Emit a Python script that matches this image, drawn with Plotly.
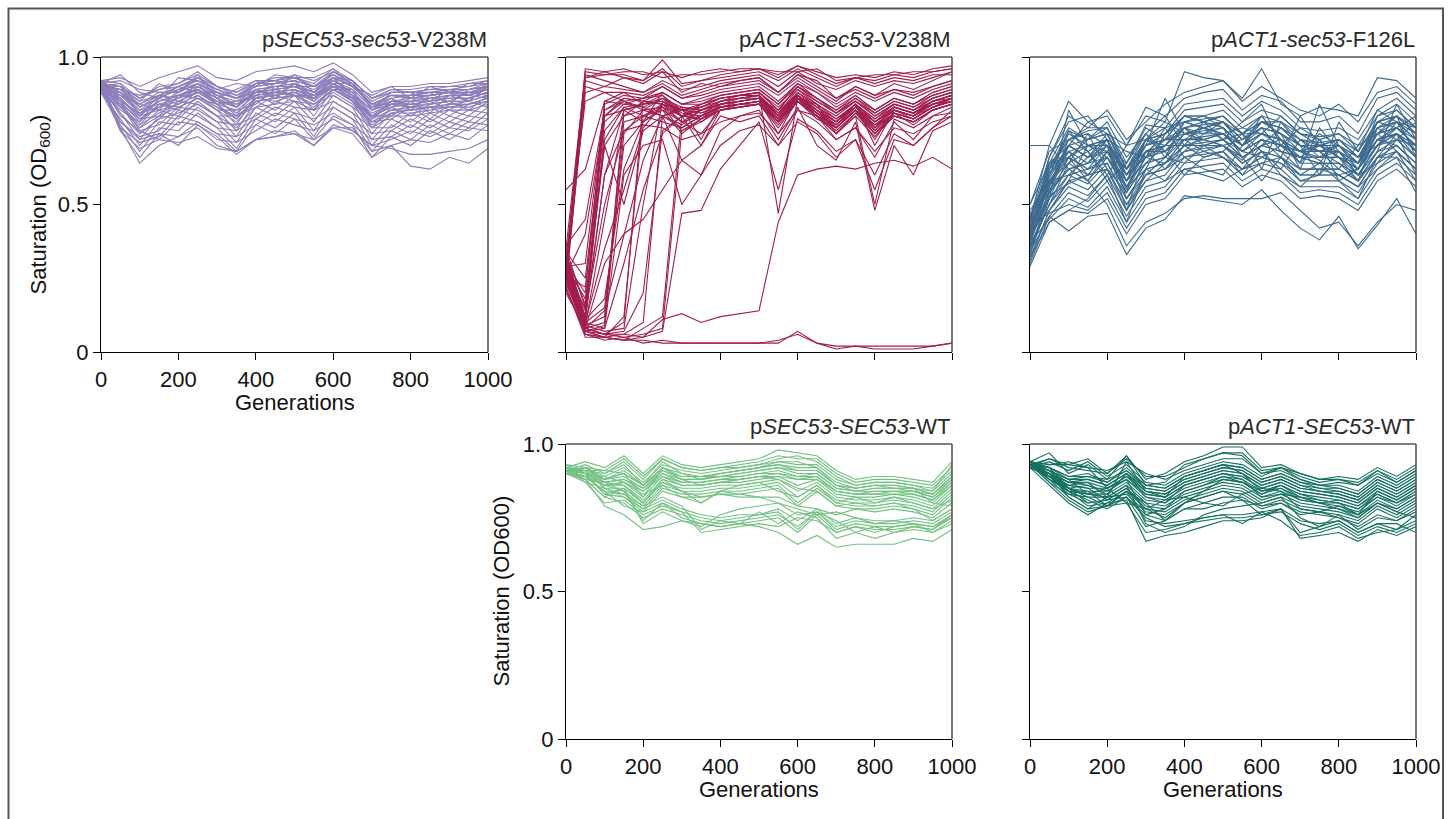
import plotly.graph_objects as go

# Generations at which saturation was measured
GENERATIONS = [0, 50, 100, 150, 200, 250, 300, 350, 400, 450, 500,
               550, 600, 650, 700, 750, 800, 850, 900, 950, 1000]

# Saturation values are stored as OD600 x 100, one row per replicate population.

# pSEC53-sec53-V238M
SEC53_V238M = [
    [92, 93, 90, 93, 95, 97, 93, 92, 95, 96, 97, 95, 98, 94, 88, 90, 90, 91, 91, 92, 93],
    [91, 94, 88, 86, 93, 92, 89, 91, 90, 94, 93, 93, 96, 90, 87, 90, 86, 90, 88, 91, 92],
    [90, 89, 85, 91, 88, 94, 86, 89, 92, 89, 94, 88, 95, 92, 82, 88, 88, 85, 89, 87, 91],
    [91, 90, 80, 87, 90, 88, 88, 83, 91, 92, 90, 90, 91, 91, 84, 84, 87, 88, 84, 89, 90],
    [89, 88, 84, 82, 89, 91, 84, 85, 87, 91, 92, 86, 93, 87, 82, 86, 82, 87, 88, 85, 90],
    [90, 85, 78, 86, 84, 90, 86, 80, 89, 86, 91, 88, 89, 89, 79, 85, 85, 81, 87, 87, 86],
    [92, 86, 79, 80, 87, 86, 82, 82, 84, 89, 87, 86, 91, 85, 80, 80, 85, 85, 82, 86, 88],
    [89, 82, 78, 84, 82, 89, 84, 77, 87, 84, 89, 82, 91, 87, 76, 83, 80, 84, 85, 82, 87],
    [88, 84, 74, 79, 85, 84, 80, 80, 83, 87, 85, 84, 87, 83, 78, 79, 83, 79, 84, 85, 83],
    [90, 83, 76, 82, 80, 87, 82, 75, 85, 82, 87, 80, 89, 85, 74, 81, 78, 83, 80, 84, 86],
    [91, 80, 75, 77, 83, 82, 78, 77, 80, 85, 83, 82, 85, 81, 76, 76, 81, 78, 82, 80, 85],
    [89, 81, 72, 80, 79, 85, 80, 73, 83, 80, 85, 78, 87, 83, 72, 79, 76, 81, 78, 82, 81],
    [90, 78, 73, 75, 82, 80, 76, 75, 79, 83, 81, 79, 83, 79, 74, 75, 79, 76, 80, 78, 83],
    [88, 79, 70, 78, 77, 83, 78, 71, 81, 78, 83, 75, 85, 81, 70, 77, 74, 79, 76, 80, 79],
    [92, 76, 71, 73, 80, 78, 74, 73, 77, 81, 79, 77, 81, 77, 72, 73, 77, 74, 78, 76, 81],
    [89, 77, 68, 76, 75, 81, 76, 69, 79, 76, 81, 73, 83, 79, 68, 75, 72, 77, 74, 78, 77],
    [90, 75, 69, 72, 78, 77, 72, 71, 75, 79, 77, 75, 79, 75, 70, 72, 75, 73, 76, 75, 79],
    [91, 75, 66, 74, 73, 78, 74, 68, 77, 74, 79, 72, 80, 77, 66, 73, 70, 75, 72, 76, 75],
    [88, 76, 64, 70, 73, 76, 70, 68, 72, 75, 74, 72, 76, 76, 68, 70, 72, 71, 74, 72, 77],
    [90, 78, 72, 74, 70, 77, 73, 67, 72, 73, 74, 70, 76, 74, 66, 70, 63, 62, 66, 64, 69],
    [89, 85, 75, 72, 71, 73, 69, 68, 72, 73, 75, 70, 77, 75, 70, 69, 67, 67, 68, 69, 72],
    [91, 92, 89, 88, 88, 93, 90, 87, 91, 91, 93, 90, 93, 92, 86, 89, 88, 89, 90, 90, 92],
    [90, 90, 86, 90, 91, 95, 90, 88, 91, 93, 93, 91, 96, 92, 86, 89, 89, 90, 90, 91, 91],
    [92, 87, 84, 87, 90, 93, 88, 86, 90, 91, 92, 90, 95, 91, 83, 87, 87, 88, 89, 89, 90],
    [89, 88, 81, 85, 87, 89, 85, 83, 88, 89, 90, 87, 92, 88, 80, 85, 84, 85, 86, 86, 88],
    [90, 86, 79, 83, 86, 88, 84, 82, 87, 88, 89, 86, 91, 87, 79, 84, 83, 84, 85, 85, 87],
    [91, 84, 77, 81, 84, 87, 83, 79, 86, 87, 88, 85, 90, 86, 78, 82, 82, 83, 84, 84, 86],
    [88, 83, 76, 80, 83, 86, 82, 78, 85, 86, 87, 84, 89, 85, 77, 81, 81, 82, 83, 83, 85],
    [90, 81, 74, 79, 81, 84, 80, 76, 83, 84, 85, 82, 88, 84, 76, 80, 80, 81, 82, 82, 84],
    [91, 88, 83, 86, 89, 92, 87, 85, 89, 90, 91, 88, 93, 90, 84, 87, 86, 87, 88, 88, 89],
    [90, 87, 82, 84, 86, 89, 85, 84, 87, 88, 89, 86, 90, 87, 81, 84, 84, 85, 86, 86, 88],
    [91, 86, 80, 85, 87, 90, 86, 83, 88, 89, 90, 87, 92, 88, 82, 85, 85, 86, 87, 87, 89],
    [89, 89, 83, 87, 85, 88, 84, 85, 86, 88, 87, 87, 90, 89, 83, 86, 83, 86, 85, 88, 87],
    [92, 85, 81, 83, 88, 91, 87, 83, 89, 87, 91, 85, 93, 86, 80, 83, 86, 84, 87, 85, 90],
    [91, 89, 84, 88, 88, 91, 88, 86, 89, 90, 91, 89, 93, 90, 84, 86, 87, 87, 88, 88, 90],
    [90, 91, 86, 89, 90, 92, 89, 87, 90, 91, 92, 90, 94, 91, 85, 88, 88, 88, 89, 89, 91],
    [92, 88, 82, 86, 89, 90, 87, 84, 88, 89, 90, 88, 92, 89, 83, 85, 86, 86, 87, 87, 89],
    [89, 87, 81, 85, 87, 89, 86, 83, 88, 88, 89, 87, 91, 88, 82, 84, 85, 86, 86, 86, 88],
    [91, 90, 85, 87, 86, 91, 88, 86, 88, 90, 90, 88, 93, 90, 84, 87, 86, 87, 88, 87, 90],
    [90, 84, 79, 83, 85, 88, 85, 81, 86, 87, 88, 86, 90, 86, 80, 83, 84, 84, 85, 85, 87],
    [88, 86, 80, 82, 84, 87, 83, 80, 85, 86, 87, 84, 89, 86, 79, 82, 83, 83, 84, 84, 86],
    [91, 83, 77, 84, 83, 86, 84, 79, 86, 85, 87, 83, 89, 85, 78, 81, 82, 83, 83, 84, 85],
    [90, 89, 87, 89, 91, 94, 90, 88, 92, 92, 94, 92, 95, 92, 86, 88, 88, 89, 89, 90, 91],
    [92, 91, 83, 86, 90, 93, 89, 86, 91, 92, 93, 90, 94, 90, 84, 87, 87, 88, 88, 89, 90],
]

# pACT1-sec53-V238M
ACT1_V238M = [
    [30, 96, 95, 96, 94, 95, 93, 95, 96, 95, 96, 94, 97, 95, 93, 94, 93, 95, 94, 96, 97],
    [25, 95, 94, 95, 95, 93, 94, 94, 95, 96, 96, 95, 95, 96, 92, 93, 94, 94, 95, 95, 96],
    [35, 94, 92, 90, 88, 92, 89, 90, 92, 93, 94, 90, 95, 91, 89, 92, 90, 92, 91, 93, 95],
    [28, 93, 95, 93, 92, 99, 91, 92, 93, 94, 95, 92, 96, 93, 90, 93, 91, 93, 92, 94, 94],
    [22, 90, 88, 85, 86, 90, 86, 88, 90, 91, 92, 88, 93, 89, 85, 90, 87, 89, 88, 90, 92],
    [30, 20, 85, 84, 86, 87, 80, 84, 86, 87, 88, 82, 90, 86, 81, 85, 80, 84, 82, 86, 88],
    [26, 15, 82, 85, 83, 80, 77, 82, 85, 86, 87, 80, 88, 84, 79, 83, 78, 82, 80, 85, 87],
    [33, 12, 80, 86, 85, 84, 82, 81, 84, 85, 86, 82, 87, 82, 78, 84, 76, 83, 81, 84, 86],
    [24, 10, 75, 83, 80, 78, 76, 80, 83, 84, 85, 79, 86, 81, 76, 82, 75, 81, 79, 83, 85],
    [29, 18, 70, 80, 82, 83, 75, 79, 82, 83, 84, 78, 85, 80, 74, 81, 74, 80, 78, 82, 84],
    [27, 8, 10, 82, 84, 86, 80, 83, 85, 86, 87, 81, 88, 83, 78, 84, 79, 83, 81, 85, 87],
    [31, 9, 12, 78, 80, 84, 78, 82, 84, 85, 86, 80, 87, 82, 77, 83, 77, 82, 80, 84, 86],
    [25, 7, 9, 74, 82, 80, 76, 80, 83, 84, 85, 79, 86, 81, 76, 82, 76, 81, 79, 83, 85],
    [34, 10, 15, 70, 78, 82, 74, 79, 82, 83, 84, 78, 85, 80, 75, 81, 74, 80, 78, 82, 84],
    [28, 8, 6, 10, 85, 84, 80, 82, 84, 85, 86, 80, 87, 81, 77, 83, 78, 82, 80, 84, 86],
    [22, 6, 5, 12, 80, 83, 78, 80, 83, 84, 85, 78, 86, 80, 76, 82, 76, 81, 79, 83, 85],
    [30, 9, 7, 8, 50, 85, 82, 81, 83, 84, 85, 79, 86, 82, 76, 82, 77, 80, 78, 82, 84],
    [26, 7, 5, 6, 10, 80, 83, 82, 84, 85, 86, 81, 87, 83, 79, 84, 78, 83, 81, 85, 87],
    [32, 8, 6, 7, 20, 75, 80, 80, 83, 84, 84, 78, 85, 81, 76, 82, 75, 81, 79, 83, 85],
    [24, 6, 5, 4, 8, 12, 80, 82, 84, 85, 86, 80, 87, 82, 78, 83, 77, 82, 80, 84, 86],
    [29, 7, 6, 5, 6, 8, 75, 78, 82, 83, 84, 77, 85, 80, 74, 80, 73, 80, 78, 82, 84],
    [27, 8, 6, 6, 5, 7, 47, 48, 62, 70, 78, 55, 79, 75, 68, 72, 55, 72, 70, 76, 82],
    [25, 7, 5, 4, 5, 11, 13, 10, 12, 13, 14, 44, 60, 62, 63, 62, 64, 65, 63, 66, 62],
    [30, 6, 4, 5, 3, 4, 3, 3, 3, 3, 3, 4, 6, 3, 2, 2, 2, 2, 2, 2, 3],
    [22, 5, 5, 4, 4, 3, 3, 3, 3, 3, 3, 3, 7, 3, 1, 2, 1, 1, 1, 2, 3],
    [55, 62, 85, 88, 84, 87, 82, 84, 86, 87, 88, 47, 86, 84, 74, 80, 50, 79, 76, 80, 83],
    [31, 10, 8, 60, 70, 72, 50, 60, 75, 80, 82, 72, 83, 70, 65, 78, 48, 70, 60, 75, 78],
    [35, 15, 70, 50, 75, 80, 65, 70, 80, 78, 80, 70, 82, 80, 72, 76, 66, 78, 72, 80, 81],
    [28, 92, 90, 93, 91, 95, 88, 91, 90, 92, 93, 88, 94, 92, 86, 90, 87, 91, 89, 92, 95],
    [26, 40, 80, 82, 78, 88, 84, 86, 88, 89, 90, 85, 91, 88, 83, 87, 82, 86, 84, 88, 90],
    [33, 11, 60, 75, 77, 76, 72, 74, 78, 80, 81, 74, 82, 78, 72, 76, 68, 76, 74, 78, 80],
    [20, 8, 30, 40, 45, 55, 65, 60, 70, 75, 77, 70, 78, 74, 66, 72, 60, 74, 70, 76, 80],
    [27, 93, 94, 94, 92, 96, 90, 92, 94, 95, 96, 93, 97, 94, 91, 93, 92, 94, 93, 95, 96],
    [32, 85, 88, 88, 87, 90, 86, 87, 89, 90, 91, 87, 92, 88, 84, 88, 85, 88, 86, 89, 91],
    [24, 88, 90, 89, 88, 91, 87, 89, 91, 92, 93, 88, 94, 90, 86, 89, 86, 89, 87, 90, 92],
    [29, 30, 84, 87, 86, 88, 84, 85, 87, 88, 89, 84, 90, 86, 82, 86, 82, 86, 84, 87, 89],
    [26, 22, 78, 84, 83, 86, 82, 83, 86, 87, 88, 83, 89, 85, 81, 85, 81, 85, 83, 86, 88],
    [31, 12, 60, 82, 84, 85, 81, 80, 85, 86, 87, 80, 88, 83, 79, 84, 79, 84, 82, 85, 87],
    [23, 9, 45, 80, 85, 84, 80, 79, 84, 85, 86, 79, 87, 82, 78, 83, 78, 83, 81, 84, 86],
    [34, 25, 80, 85, 82, 86, 83, 72, 84, 86, 86, 78, 87, 83, 78, 84, 70, 82, 79, 83, 86],
    [28, 11, 18, 62, 78, 83, 80, 70, 82, 84, 85, 74, 86, 80, 77, 82, 72, 82, 80, 84, 85],
    [30, 14, 50, 75, 80, 82, 78, 74, 82, 83, 84, 76, 85, 79, 76, 82, 74, 81, 77, 82, 84],
    [25, 8, 14, 40, 65, 80, 82, 78, 83, 84, 85, 78, 86, 82, 77, 83, 76, 82, 80, 83, 85],
    [33, 16, 72, 83, 84, 85, 80, 82, 85, 87, 87, 81, 89, 84, 80, 85, 80, 84, 82, 86, 88],
    [27, 10, 35, 55, 76, 84, 82, 83, 86, 87, 88, 82, 90, 85, 81, 86, 81, 85, 83, 87, 89],
    [36, 45, 82, 86, 85, 88, 84, 84, 87, 88, 89, 84, 91, 86, 82, 87, 82, 86, 84, 88, 90],
    [21, 7, 8, 30, 55, 74, 80, 79, 83, 85, 86, 80, 87, 82, 78, 84, 78, 83, 81, 85, 86],
]

# pACT1-sec53-F126L
ACT1_F126L = [
    [45, 70, 85, 78, 80, 70, 80, 78, 95, 93, 92, 86, 96, 84, 80, 83, 82, 80, 93, 92, 86],
    [40, 66, 80, 76, 82, 72, 78, 84, 88, 90, 92, 85, 90, 86, 82, 80, 84, 78, 88, 90, 84],
    [38, 62, 75, 72, 78, 66, 74, 80, 86, 88, 89, 82, 87, 85, 78, 78, 80, 74, 86, 88, 82],
    [50, 68, 72, 75, 76, 64, 77, 76, 84, 85, 86, 80, 85, 82, 76, 75, 76, 72, 82, 86, 80],
    [42, 60, 70, 66, 74, 60, 72, 74, 82, 83, 84, 78, 82, 80, 74, 73, 74, 70, 80, 84, 78],
    [36, 58, 68, 64, 72, 58, 70, 72, 80, 80, 82, 76, 80, 78, 72, 71, 72, 68, 78, 82, 76],
    [44, 56, 66, 62, 70, 56, 68, 70, 78, 79, 80, 74, 78, 76, 70, 70, 70, 66, 76, 80, 74],
    [33, 55, 64, 60, 68, 55, 66, 68, 76, 77, 78, 72, 76, 74, 68, 68, 68, 64, 74, 78, 72],
    [47, 54, 62, 58, 66, 54, 64, 66, 74, 75, 76, 70, 74, 72, 66, 66, 66, 62, 72, 76, 70],
    [39, 52, 60, 57, 64, 52, 62, 64, 72, 73, 74, 68, 72, 70, 64, 64, 64, 60, 70, 74, 68],
    [35, 50, 58, 55, 62, 50, 60, 62, 70, 71, 72, 66, 70, 68, 62, 62, 62, 58, 68, 72, 66],
    [41, 48, 56, 53, 60, 48, 58, 60, 68, 69, 70, 64, 68, 66, 60, 60, 60, 56, 66, 70, 64],
    [30, 46, 54, 51, 58, 46, 56, 58, 66, 67, 68, 62, 66, 64, 58, 58, 58, 54, 64, 68, 62],
    [37, 45, 52, 49, 56, 44, 54, 56, 64, 65, 66, 60, 64, 62, 56, 56, 56, 52, 62, 66, 60],
    [43, 47, 50, 48, 54, 42, 52, 54, 62, 63, 64, 58, 62, 60, 54, 55, 54, 50, 60, 64, 58],
    [32, 44, 48, 47, 52, 40, 50, 52, 60, 61, 62, 56, 60, 58, 52, 53, 52, 48, 58, 62, 56],
    [70, 70, 62, 58, 50, 36, 44, 47, 52, 53, 52, 52, 52, 54, 48, 42, 44, 36, 44, 50, 48],
    [34, 46, 41, 46, 47, 33, 42, 45, 53, 52, 51, 50, 55, 48, 42, 38, 46, 35, 43, 52, 40],
    [46, 60, 75, 68, 60, 70, 83, 80, 70, 78, 72, 78, 84, 70, 68, 65, 60, 62, 70, 74, 70],
    [40, 64, 66, 72, 76, 62, 70, 86, 74, 72, 70, 65, 72, 66, 80, 70, 66, 58, 76, 72, 78],
    [38, 52, 82, 70, 66, 58, 64, 70, 76, 70, 66, 62, 70, 72, 64, 84, 70, 64, 78, 80, 66],
    [48, 58, 60, 66, 70, 48, 68, 62, 68, 74, 78, 74, 62, 78, 70, 60, 78, 68, 82, 78, 74],
    [36, 50, 64, 74, 62, 54, 72, 68, 60, 66, 68, 60, 68, 62, 72, 68, 62, 70, 74, 68, 62],
    [44, 62, 68, 60, 68, 60, 66, 76, 66, 62, 60, 70, 78, 74, 62, 76, 68, 60, 68, 84, 72],
    [31, 48, 58, 70, 72, 52, 60, 66, 78, 76, 74, 68, 66, 70, 76, 72, 58, 62, 72, 70, 64],
    [42, 56, 72, 68, 58, 64, 76, 72, 72, 68, 70, 72, 76, 68, 66, 64, 72, 66, 76, 78, 68],
    [39, 54, 62, 64, 66, 56, 62, 74, 80, 80, 76, 66, 70, 76, 70, 68, 64, 58, 66, 74, 60],
    [45, 66, 78, 80, 72, 68, 66, 70, 70, 72, 74, 76, 74, 80, 74, 70, 66, 64, 80, 82, 76],
    [29, 44, 48, 52, 60, 44, 62, 58, 62, 60, 58, 62, 64, 66, 60, 64, 58, 52, 66, 66, 54],
    [50, 64, 70, 78, 74, 70, 72, 78, 74, 76, 78, 70, 80, 72, 68, 74, 70, 66, 70, 76, 80],
    [35, 53, 57, 60, 62, 50, 58, 64, 70, 66, 68, 74, 68, 60, 56, 62, 60, 56, 62, 68, 58],
    [41, 58, 66, 58, 68, 62, 74, 66, 64, 70, 72, 66, 58, 66, 58, 60, 68, 60, 64, 72, 70],
    [40, 56, 70, 72, 74, 60, 70, 74, 78, 76, 78, 72, 76, 74, 70, 68, 70, 64, 76, 78, 72],
    [36, 60, 74, 70, 70, 62, 68, 72, 80, 78, 80, 74, 80, 72, 68, 70, 72, 66, 74, 80, 74],
    [43, 58, 64, 68, 72, 58, 72, 70, 76, 78, 76, 70, 78, 76, 72, 66, 66, 62, 78, 76, 70],
    [38, 54, 70, 66, 68, 56, 66, 72, 74, 74, 74, 68, 72, 70, 66, 70, 68, 64, 72, 74, 68],
    [45, 62, 72, 74, 70, 64, 74, 68, 72, 76, 72, 74, 74, 72, 64, 72, 66, 60, 70, 78, 76],
    [33, 52, 66, 62, 66, 54, 64, 66, 72, 72, 70, 66, 70, 68, 66, 64, 64, 60, 70, 72, 66],
    [41, 57, 68, 70, 72, 58, 68, 70, 76, 74, 76, 70, 76, 74, 70, 68, 70, 62, 74, 76, 70],
    [37, 55, 62, 64, 70, 60, 66, 64, 70, 70, 72, 68, 74, 70, 66, 66, 68, 62, 72, 74, 68],
    [44, 64, 76, 72, 74, 62, 72, 76, 78, 80, 78, 72, 78, 76, 72, 70, 72, 66, 78, 80, 74],
    [35, 50, 60, 62, 64, 52, 62, 64, 68, 70, 70, 64, 68, 66, 62, 62, 62, 58, 68, 70, 64],
    [39, 59, 70, 66, 72, 60, 70, 72, 76, 72, 74, 70, 74, 72, 68, 66, 70, 64, 74, 76, 72],
    [46, 61, 66, 70, 68, 58, 68, 68, 74, 76, 74, 68, 72, 70, 68, 70, 66, 62, 72, 74, 66],
    [32, 48, 58, 60, 62, 48, 60, 62, 66, 68, 66, 62, 66, 64, 60, 60, 60, 56, 66, 68, 62],
    [42, 63, 72, 76, 76, 62, 72, 74, 80, 78, 80, 74, 78, 78, 74, 72, 74, 68, 78, 80, 76],
]

# pSEC53-SEC53-WT
SEC53_WT = [
    [92, 94, 92, 96, 90, 96, 93, 92, 93, 94, 95, 98, 97, 96, 91, 88, 89, 89, 88, 87, 94],
    [91, 93, 90, 94, 88, 95, 92, 91, 92, 93, 94, 96, 95, 95, 90, 87, 88, 88, 87, 86, 92],
    [90, 92, 89, 92, 87, 93, 91, 90, 91, 92, 93, 94, 93, 93, 88, 86, 87, 87, 86, 85, 91],
    [92, 91, 91, 90, 86, 92, 90, 89, 90, 91, 92, 93, 92, 92, 87, 85, 86, 86, 85, 84, 90],
    [91, 90, 88, 89, 85, 91, 89, 89, 89, 90, 91, 92, 91, 91, 86, 84, 85, 85, 85, 83, 89],
    [90, 92, 87, 88, 84, 90, 88, 88, 89, 89, 90, 91, 89, 90, 85, 84, 84, 84, 84, 82, 88],
    [93, 90, 89, 87, 82, 89, 87, 87, 88, 88, 89, 90, 88, 89, 84, 83, 83, 84, 83, 81, 87],
    [91, 89, 86, 86, 81, 88, 86, 86, 87, 87, 88, 89, 86, 88, 83, 82, 82, 83, 82, 80, 86],
    [90, 91, 85, 85, 80, 87, 85, 85, 86, 86, 87, 88, 84, 87, 82, 81, 81, 82, 81, 79, 85],
    [92, 88, 87, 84, 79, 86, 84, 84, 85, 85, 86, 87, 82, 86, 81, 80, 80, 81, 80, 78, 84],
    [91, 89, 84, 83, 78, 85, 83, 83, 84, 84, 85, 86, 80, 85, 80, 79, 79, 80, 79, 77, 83],
    [90, 87, 85, 82, 77, 84, 82, 82, 83, 83, 84, 85, 79, 84, 79, 78, 78, 79, 78, 76, 82],
    [92, 90, 83, 85, 80, 88, 84, 80, 84, 86, 87, 84, 82, 86, 80, 82, 80, 82, 80, 78, 81],
    [91, 88, 82, 80, 75, 78, 76, 74, 73, 74, 75, 76, 72, 77, 71, 73, 72, 72, 73, 72, 76],
    [90, 89, 84, 79, 77, 80, 75, 73, 72, 73, 74, 75, 70, 76, 70, 72, 71, 71, 72, 71, 75],
    [92, 87, 80, 81, 76, 79, 77, 75, 74, 75, 76, 77, 71, 77, 72, 74, 73, 73, 74, 73, 77],
    [91, 90, 83, 82, 78, 81, 78, 76, 75, 76, 76, 78, 74, 78, 73, 75, 74, 74, 75, 74, 78],
    [90, 88, 79, 76, 71, 72, 74, 73, 72, 73, 72, 70, 66, 69, 65, 66, 66, 66, 68, 67, 71],
    [92, 91, 85, 83, 79, 82, 79, 71, 74, 73, 77, 73, 77, 75, 68, 70, 68, 70, 71, 70, 73],
    [91, 89, 86, 84, 74, 80, 77, 70, 71, 72, 73, 72, 75, 74, 70, 72, 70, 72, 73, 70, 74],
    [90, 88, 82, 85, 73, 77, 74, 72, 76, 78, 79, 80, 76, 77, 74, 70, 72, 70, 72, 71, 76],
    [92, 90, 87, 86, 80, 87, 84, 82, 83, 82, 82, 80, 78, 76, 77, 75, 73, 74, 73, 72, 75],
    [91, 92, 88, 90, 82, 92, 88, 86, 87, 88, 89, 88, 85, 84, 79, 80, 79, 80, 78, 74, 78],
    [90, 91, 90, 93, 86, 94, 90, 88, 90, 91, 92, 94, 94, 92, 86, 85, 86, 86, 85, 80, 79],
    [93, 92, 91, 95, 89, 95, 92, 91, 92, 92, 93, 95, 96, 94, 89, 86, 87, 87, 86, 84, 93],
    [91, 90, 86, 87, 83, 86, 82, 80, 84, 83, 82, 82, 79, 78, 76, 78, 77, 78, 77, 75, 80],
    [91, 91, 88, 90, 86, 91, 88, 88, 89, 90, 91, 92, 90, 90, 85, 84, 85, 85, 84, 83, 88],
    [92, 90, 87, 88, 85, 90, 87, 87, 88, 89, 90, 90, 89, 89, 84, 83, 84, 84, 84, 82, 87],
    [90, 89, 86, 87, 84, 89, 86, 86, 87, 88, 89, 89, 88, 88, 84, 83, 83, 83, 83, 81, 86],
    [91, 92, 88, 91, 86, 92, 89, 89, 90, 91, 92, 93, 91, 91, 86, 85, 86, 85, 85, 83, 89],
]

# pACT1-SEC53-WT
ACT1_WT = [
    [94, 97, 90, 93, 88, 96, 88, 90, 94, 96, 99, 99, 92, 93, 90, 88, 89, 88, 92, 89, 93],
    [93, 95, 92, 91, 90, 95, 89, 89, 92, 95, 97, 97, 91, 92, 89, 87, 88, 87, 91, 88, 92],
    [94, 93, 94, 92, 91, 94, 90, 88, 91, 93, 95, 95, 90, 91, 88, 86, 87, 86, 90, 87, 91],
    [92, 94, 91, 94, 89, 93, 87, 86, 90, 92, 94, 93, 89, 92, 88, 86, 86, 84, 89, 86, 90],
    [94, 92, 89, 90, 87, 92, 86, 85, 89, 91, 93, 92, 88, 90, 87, 85, 85, 83, 88, 85, 89],
    [93, 91, 88, 89, 88, 91, 85, 84, 88, 90, 92, 91, 87, 89, 86, 84, 84, 82, 87, 84, 88],
    [94, 90, 87, 88, 86, 90, 84, 83, 87, 89, 91, 90, 86, 88, 85, 84, 83, 81, 86, 83, 87],
    [93, 89, 86, 85, 85, 89, 83, 82, 86, 88, 90, 89, 85, 87, 84, 83, 82, 80, 85, 82, 86],
    [92, 90, 85, 84, 84, 88, 82, 81, 85, 87, 89, 88, 84, 86, 83, 82, 81, 79, 84, 81, 85],
    [94, 88, 84, 83, 83, 87, 81, 80, 84, 86, 88, 87, 83, 85, 82, 81, 80, 78, 83, 80, 84],
    [93, 87, 83, 82, 82, 86, 80, 79, 83, 85, 87, 86, 82, 84, 81, 80, 79, 77, 82, 79, 83],
    [94, 88, 85, 80, 81, 85, 79, 78, 82, 84, 86, 85, 81, 83, 80, 79, 78, 76, 81, 78, 82],
    [93, 89, 84, 79, 80, 84, 78, 77, 81, 83, 85, 84, 80, 82, 79, 78, 77, 75, 80, 77, 81],
    [92, 90, 82, 78, 82, 83, 77, 76, 80, 82, 84, 83, 79, 81, 78, 77, 76, 74, 79, 76, 80],
    [94, 87, 81, 77, 79, 82, 76, 74, 78, 80, 82, 82, 78, 80, 77, 76, 75, 73, 78, 75, 79],
    [93, 88, 82, 78, 79, 84, 74, 73, 74, 75, 76, 76, 77, 78, 74, 73, 74, 70, 73, 71, 74],
    [94, 89, 83, 80, 81, 82, 75, 72, 73, 74, 75, 75, 76, 77, 73, 71, 73, 69, 72, 70, 73],
    [92, 86, 80, 76, 80, 81, 67, 69, 70, 72, 74, 74, 75, 78, 68, 69, 70, 67, 71, 69, 72],
    [93, 91, 85, 82, 79, 80, 70, 71, 73, 75, 76, 73, 77, 74, 69, 70, 72, 68, 70, 71, 76],
    [94, 88, 84, 81, 78, 82, 72, 74, 78, 78, 80, 81, 76, 78, 70, 72, 74, 70, 73, 73, 70],
    [93, 92, 85, 83, 82, 86, 73, 70, 72, 76, 78, 79, 80, 82, 75, 72, 76, 71, 75, 74, 78],
    [92, 90, 86, 85, 81, 85, 78, 75, 80, 82, 84, 81, 79, 80, 76, 77, 75, 72, 76, 74, 77],
    [94, 93, 93, 92, 85, 80, 78, 81, 82, 80, 79, 83, 85, 84, 78, 77, 79, 76, 80, 77, 75],
    [93, 91, 87, 86, 83, 90, 82, 80, 86, 88, 90, 88, 82, 83, 82, 80, 78, 75, 80, 78, 82],
    [94, 89, 86, 87, 82, 94, 84, 82, 89, 91, 93, 90, 84, 86, 83, 81, 80, 76, 84, 81, 85],
    [92, 95, 93, 95, 90, 96, 86, 87, 93, 95, 97, 96, 90, 92, 90, 88, 88, 86, 91, 87, 91],
    [93, 90, 84, 84, 79, 84, 80, 74, 80, 84, 88, 87, 84, 85, 81, 80, 80, 78, 82, 80, 84],
    [94, 92, 88, 83, 85, 88, 76, 78, 84, 86, 89, 87, 83, 86, 82, 80, 81, 79, 83, 80, 83],
    [93, 90, 87, 87, 85, 89, 84, 83, 87, 89, 91, 90, 86, 88, 85, 84, 83, 81, 86, 83, 87],
    [94, 91, 88, 88, 86, 90, 85, 84, 88, 90, 92, 91, 87, 89, 86, 85, 84, 82, 87, 84, 88],
    [92, 89, 85, 86, 84, 88, 83, 82, 86, 88, 90, 89, 85, 87, 84, 83, 82, 80, 85, 82, 86],
    [93, 92, 89, 89, 87, 91, 86, 85, 89, 91, 93, 92, 88, 90, 87, 86, 85, 83, 88, 85, 89],
]

X_TICKS = [0, 200, 400, 600, 800, 1000]
Y_TICKS = [0, 0.5, 1.0]
Y_TICK_TEXT = ["0", "0.5", "1.0"]

W, H = 1448, 819
FONT = "Liberation Sans, Arial, Helvetica, sans-serif"
FS = 22


def px_x(p):
    return p / W


def px_y(p):
    return 1 - p / H


# panel: (axis suffix, data, colour, title, left px, right px, top px, bottom px, labels)
PANELS = [
    ("", SEC53_V238M, "#8d7cb9", "p<i>SEC53-sec53</i>-V238M", 101, 488, 57, 352, True, True),
    ("2", ACT1_V238M, "#a11d4f", "p<i>ACT1-sec53</i>-V238M", 566, 952, 57, 352, False, False),
    ("3", ACT1_F126L, "#3d6a8e", "p<i>ACT1-sec53</i>-F126L", 1030, 1416, 57, 352, False, False),
    ("4", SEC53_WT, "#74c283", "p<i>SEC53-SEC53</i>-WT", 566, 952, 444, 739, True, True),
    ("5", ACT1_WT, "#14705f", "p<i>ACT1-SEC53</i>-WT", 1030, 1416, 444, 739, True, False),
]

fig = go.Figure()
layout = dict(
    template="none",
    width=W, height=H, autosize=False,
    margin=dict(l=0, r=0, t=0, b=0, pad=0, autoexpand=False),
    paper_bgcolor="white", plot_bgcolor="white",
    showlegend=False,
    font=dict(family=FONT, size=FS, color="#1a1a1a"),
    shapes=[], annotations=[],
)

for suf, data, colour, title, xl, xr, yt, yb, xlabels, ylabels in PANELS:
    xa, ya = "x" + suf, "y" + suf
    for series in data:
        fig.add_trace(go.Scatter(
            x=GENERATIONS, y=[v / 100 for v in series], mode="lines",
            line=dict(color=colour, width=1.1), hoverinfo="skip",
            xaxis=xa, yaxis=ya, showlegend=False,
        ))
    layout["xaxis" + suf] = dict(
        domain=[px_x(xl), px_x(xr)], anchor=ya, range=[0, 1000],
        tickvals=X_TICKS, showticklabels=xlabels, ticks="outside",
        ticklen=7, tickwidth=1.3, tickcolor="black",
        showline=True, linecolor="black", linewidth=1.3,
        showgrid=False, zeroline=False, automargin=False,
        tickfont=dict(size=FS, color="#111"),
    )
    layout["yaxis" + suf] = dict(
        domain=[px_y(yb), px_y(yt)], anchor=xa, range=[0, 1],
        tickvals=Y_TICKS, ticktext=Y_TICK_TEXT, showticklabels=ylabels,
        ticks="outside", ticklen=7, tickwidth=1.3, tickcolor="black",
        showline=True, linecolor="black", linewidth=1.3,
        showgrid=False, zeroline=False, automargin=False,
        tickfont=dict(size=FS, color="#111"),
    )
    # top and right frame lines of each panel
    layout["shapes"].append(dict(type="line", xref="paper", yref="paper",
                                 x0=px_x(xl), x1=px_x(xr), y0=px_y(yt), y1=px_y(yt),
                                 line=dict(color="#555", width=1.6)))
    layout["shapes"].append(dict(type="line", xref="paper", yref="paper",
                                 x0=px_x(xr), x1=px_x(xr), y0=px_y(yb), y1=px_y(yt),
                                 line=dict(color="#555", width=1.6)))
    # panel title
    layout["annotations"].append(dict(
        text=title, xref="paper", yref="paper", x=px_x(xr + 1), y=px_y(yt - 18),
        xanchor="right", yanchor="middle", showarrow=False,
        font=dict(size=FS, color="#2a2a2a"),
    ))
    if xlabels:
        layout["annotations"].append(dict(
            text="Generations", xref="paper", yref="paper",
            x=px_x((xl + xr) / 2), y=px_y(yb + 50),
            xanchor="center", yanchor="middle", showarrow=False,
            font=dict(size=FS, color="#111"),
        ))

# y-axis titles
layout["annotations"].append(dict(
    text="Saturation (OD<sub>600</sub>)", xref="paper", yref="paper",
    x=px_x(39), y=px_y((57 + 352) / 2), textangle=-90,
    xanchor="center", yanchor="middle", showarrow=False,
    font=dict(size=FS, color="#111"),
))
layout["annotations"].append(dict(
    text="Saturation (OD600)", xref="paper", yref="paper",
    x=px_x(501), y=px_y((444 + 739) / 2), textangle=-90,
    xanchor="center", yanchor="middle", showarrow=False,
    font=dict(size=FS, color="#111"),
))

# outer frame
layout["shapes"].append(dict(type="rect", xref="paper", yref="paper",
                             x0=px_x(8.5), x1=px_x(1443), y0=-0.05, y1=px_y(8.5),
                             line=dict(color="#555", width=2), fillcolor="rgba(0,0,0,0)",
                             layer="below"))

fig.update_layout(**layout)
fig.write_html(
    "out.html",
    post_script="document.body.style.margin='0';document.body.style.overflow='hidden';",
)
